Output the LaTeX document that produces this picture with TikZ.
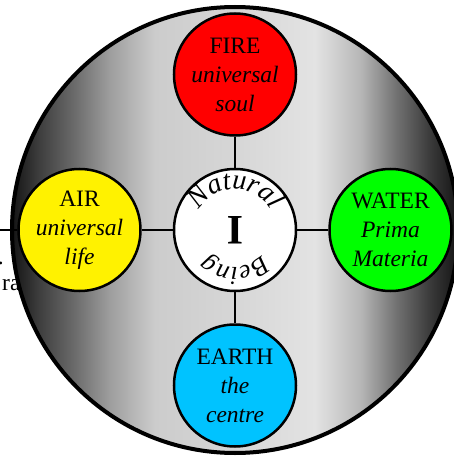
\documentclass[tikz,border=0pt]{standalone}
\usepackage{fontspec}
\setmainfont{Liberation Serif}
\usetikzlibrary{positioning,decorations.text}
\definecolor{earthblue}{RGB}{0,195,255}
\pgfdeclarehorizontalshading{metal}{100bp}{color(0bp)=(black!92); color(25bp)=(black!92); color(28bp)=(black!76); color(32bp)=(black!58); color(36bp)=(black!38); color(41bp)=(black!20); color(50bp)=(black!16); color(59bp)=(black!11); color(64bp)=(black!28); color(68bp)=(black!55); color(72bp)=(black!78); color(75bp)=(black!92); color(100bp)=(black!92)}

\begin{document}
\begin{tikzpicture}[x=1pt,y=1pt,node distance=31pt, elem/.style={circle,draw,line width=2.5pt,minimum size=122pt,inner sep=0pt,align=center,font=\fontsize{23.5}{29}\selectfont}, link/.style={line width=2.2pt}, arcword/.style={decorate,decoration={text along path,text align=center,text={#1}}}]
\useasboundingbox (-235,-228) rectangle (219,230);
\clip (-235,-228) rectangle (219,230);
\node[circle,draw,line width=4pt,minimum size=446pt,shade,shading=metal] (world) at (0,0) {};
\node[elem,fill=white] (nat) at (0,0) {};
\node[elem,fill=red,above=of nat] (fire) {FIRE\\\textit{universal}\\\textit{soul}};
\node[elem,fill=yellow,left=of nat] (air) {AIR\\\textit{universal}\\\textit{life}};
\node[elem,fill=green,right=of nat] (water) {WATER\\\textit{Prima}\\\textit{Materia}};
\node[elem,fill=earthblue,below=of nat] (earth) {EARTH\\\textit{the}\\\textit{centre}};
\coordinate (rim) at (-240,0);
\draw[link] (nat)--(fire); \draw[link] (nat)--(air); \draw[link] (nat)--(water); \draw[link] (nat)--(earth);
\draw[link] (air)--(rim);
% the two words round the middle
\path[arcword={|\itshape\fontsize{28}{30}\selectfont|Natural}] ([shift={(180:41pt)}]nat.center) arc[start angle=180,end angle=0,radius=41pt];
\path[arcword={|\itshape\fontsize{26}{30}\selectfont|Being}] ([shift={(0:37pt)}]nat.center) arc[start angle=0,end angle=-180,radius=37pt];
\node[font=\bfseries\fontsize{42}{42}\selectfont,rotate=180] (iota) at (nat) {I};
\node[anchor=base east,font=\fontsize{23.5}{29}\selectfont] (frag) at (-211,-60) {ra};
\node[anchor=base east,font=\fontsize{23.5}{29}\selectfont,inner sep=0pt] (dot) at (-231,-34) {.};
\end{tikzpicture}
\end{document}
